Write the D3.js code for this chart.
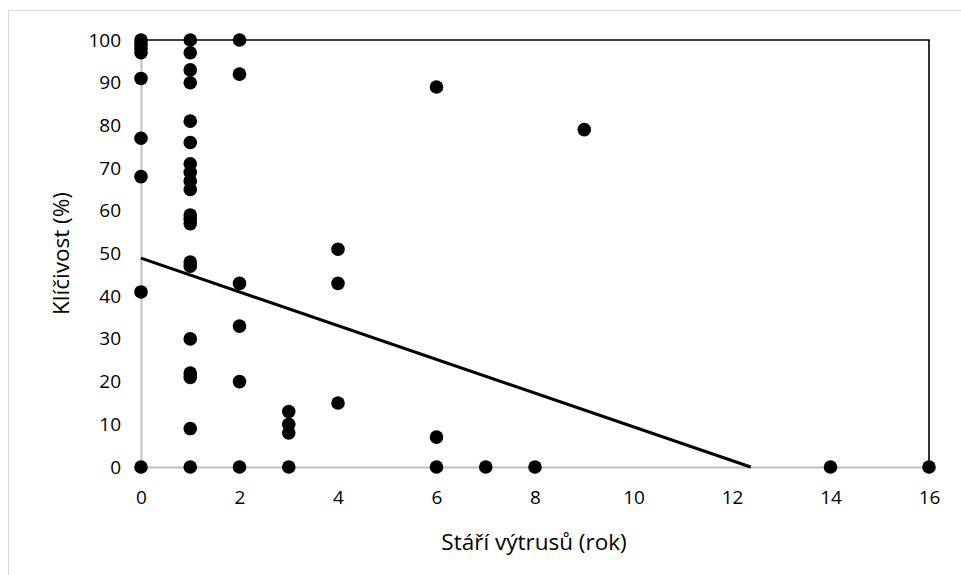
<!DOCTYPE html>
<html>
<head>
<meta charset="utf-8">
<script src="https://cdn.jsdelivr.net/npm/d3@7"></script>
<style>
  body { margin: 0; background: #fff; }
  svg { display: block; }
  text { font-family: "Open Sans", "Noto Sans", sans-serif; fill: #000; }
</style>
</head>
<body>
<svg id="chart" width="961" height="575"></svg>
<script>
// Data: spore age (years) and germination (%)
const ageValues = [
  0,0,0,0,0,0,0,0,0,
  1,1,1,1,1,1,1,1,1,1,1,1,1,1,1,1,1,1,1,1,
  2,2,2,2,2,2,
  3,3,3,3,
  4,4,4,
  6,6,6,
  7,8,9,14,16
];
const germinationValues = [
  100,99,98,97,91,77,68,41,0,
  100,97,93,90,81,76,71,69,67,65,59,58,57,48,47,30,22,21,9,0,
  100,92,43,33,20,0,
  13,10,8,0,
  51,43,15,
  89,7,0,
  0,0,79,0,0
];
// Boundary line series (max germination edge)
const boundaryX = [0, 16, 16];
const boundaryY = [100, 100, 0];
// Linear trend
const trendIntercept = 48.9;
const trendSlope = -3.95;
const trendX = [0, 12.38];

const xTicks = [0,2,4,6,8,10,12,14,16];
const yTicks = [0,10,20,30,40,50,60,70,80,90,100];
const xTitle = "Stáří výtrusů (rok)";
const yTitle = "Klíčivost (%)";

const svg = d3.select("#chart");
const mLeft = 141, mRight = 929, mTop = 40, mBottom = 467;

const x = d3.scaleLinear().domain([0,16]).range([mLeft, mRight]);
const y = d3.scaleLinear().domain([0,100]).range([mBottom, mTop]);

// outer chart border
svg.append("rect").attr("x", 8.5).attr("y", 10.5).attr("width", 1000).attr("height", 1000)
  .attr("fill", "none").attr("stroke", "#d9d9d9").attr("stroke-width", 1);

// axes
const xAxis = d3.axisBottom(x).tickValues(xTicks).tickSize(0).tickPadding(30);
const yAxis = d3.axisLeft(y).tickValues(yTicks).tickSize(0).tickPadding(20);

const gx = svg.append("g").attr("transform", `translate(0,${mBottom})`).call(xAxis);
const gy = svg.append("g").attr("transform", `translate(${mLeft},0)`).call(yAxis);
[gx, gy].forEach(g => {
  g.select(".domain").attr("stroke", "#bfbfbf").attr("stroke-width", 2);
  g.selectAll("text").style("font-size", "19px").style("font-family", '"Open Sans", "Noto Sans", sans-serif').attr("fill", "#000");
});
gx.selectAll("text").attr("dy", "0.36em");

// boundary line
const line = d3.line().x(d => x(d[0])).y(d => y(d[1]));
svg.append("path")
  .datum(boundaryX.map((v,i) => [v, boundaryY[i]]))
  .attr("d", line).attr("fill", "none").attr("stroke", "#000").attr("stroke-width", 1.6);

// trend line
svg.append("path")
  .datum(trendX.map(v => [v, trendIntercept + trendSlope * v]))
  .attr("d", line).attr("fill", "none").attr("stroke", "#000").attr("stroke-width", 3);

// points
svg.append("g").selectAll("circle")
  .data(ageValues.map((v,i) => [v, germinationValues[i]]))
  .join("circle")
  .attr("cx", d => x(d[0])).attr("cy", d => y(d[1]))
  .attr("r", 6.8).attr("fill", "#000");

// titles
svg.append("text").attr("x", 534).attr("y", 550)
  .attr("text-anchor", "middle").style("font-size", "22.5px").text(xTitle);
svg.append("text").attr("transform", `translate(69,${(mTop+mBottom)/2}) rotate(-90)`)
  .attr("text-anchor", "middle").style("font-size", "22.5px").text(yTitle);
</script>
</body>
</html>
